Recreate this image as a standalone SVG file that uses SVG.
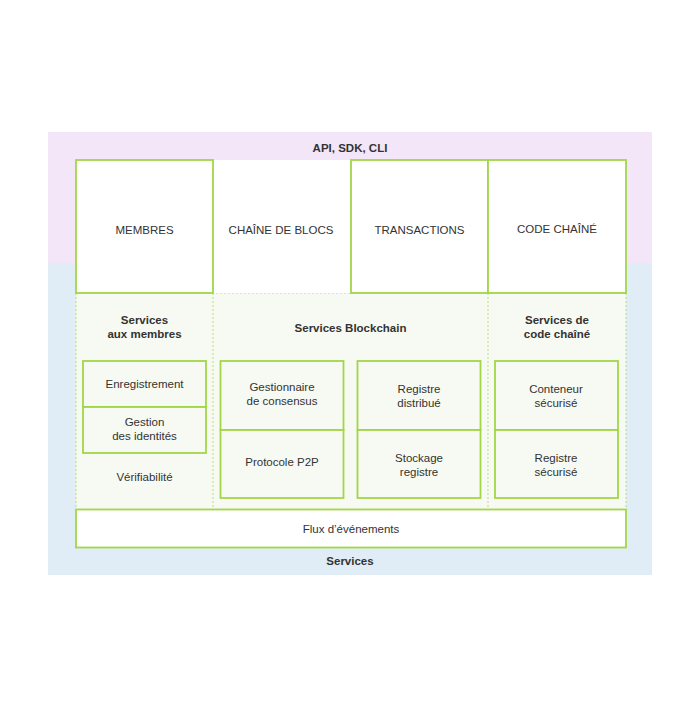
<svg xmlns="http://www.w3.org/2000/svg" width="700" height="706" viewBox="0 0 700 706">
<style>
  text { font-family: "Liberation Sans", Arial, sans-serif; fill: #333; text-anchor: middle; }
  .lbl { font-size: 11.5px; }
  .hdr { font-size: 11.5px; font-weight: bold; }
  .box { fill: #ffffff; stroke: #a2d648; stroke-width: 1.8; }
  .sub { fill: #f7faf2; stroke: #a2d648; stroke-width: 1.8; }
  .dash { fill: none; stroke: #b5de7a; stroke-width: 1; stroke-dasharray: 2 2; }
</style>
<rect width="700" height="706" fill="#ffffff"/>
<g id="background">
  <rect x="48" y="132" width="604" height="131" fill="#f2e6f8"/>
  <rect x="48" y="263" width="604" height="312" fill="#e1edf6"/>
  <text class="hdr" x="350" y="152">API, SDK, CLI</text>
  <text class="hdr" x="350" y="565">Services</text>
</g>
<g id="services-area">
  <rect x="76" y="293" width="550" height="216" fill="#f7faf2"/>
  <path class="dash" d="M76,293 H626 M76,293 V509 M626,293 V509 M213,293 V509 M488,293 V509"/>
</g>
<g id="chaine-de-blocs">
  <rect x="213" y="160" width="138" height="133" fill="#ffffff"/>
  <text class="lbl" x="281" y="234">CHAÎNE DE BLOCS</text>
</g>
<g id="membres">
  <rect class="box" x="76" y="160" width="137" height="133"/>
  <text class="lbl" x="144.5" y="234">MEMBRES</text>
</g>
<g id="transactions">
  <rect class="box" x="351" y="160" width="137" height="133"/>
  <text class="lbl" x="419.5" y="234">TRANSACTIONS</text>
</g>
<g id="code-chaine">
  <rect class="box" x="488" y="160" width="138" height="133"/>
  <text class="lbl" x="557" y="233">CODE CHAÎNÉ</text>
</g>
<g id="services-membres">
  <text class="hdr" x="144.5" y="324">Services</text>
  <text class="hdr" x="144.5" y="338">aux membres</text>
</g>
<g id="services-blockchain">
  <text class="hdr" x="350.5" y="332">Services Blockchain</text>
</g>
<g id="services-code">
  <text class="hdr" x="557" y="324">Services de</text>
  <text class="hdr" x="557" y="338">code chaîné</text>
</g>
<g id="enregistrement">
  <rect class="sub" x="83" y="361" width="123" height="46"/>
  <text class="lbl" x="144.5" y="388">Enregistrement</text>
</g>
<g id="gestion-identites">
  <rect class="sub" x="83" y="407" width="123" height="46"/>
  <text class="lbl" x="144.5" y="426">Gestion</text>
  <text class="lbl" x="144.5" y="440">des identités</text>
</g>
<g id="verifiabilite">
  <text class="lbl" x="144.5" y="481">Vérifiabilité</text>
</g>
<g id="consensus">
  <rect class="sub" x="220.5" y="361" width="123" height="69"/>
  <text class="lbl" x="282" y="391">Gestionnaire</text>
  <text class="lbl" x="282" y="405">de consensus</text>
</g>
<g id="p2p">
  <rect class="sub" x="220.5" y="430" width="123" height="68"/>
  <text class="lbl" x="282" y="466">Protocole P2P</text>
</g>
<g id="registre-distribue">
  <rect class="sub" x="357.5" y="361" width="123" height="69"/>
  <text class="lbl" x="419" y="393">Registre</text>
  <text class="lbl" x="419" y="407">distribué</text>
</g>
<g id="stockage-registre">
  <rect class="sub" x="357.5" y="430" width="123" height="68"/>
  <text class="lbl" x="419" y="462">Stockage</text>
  <text class="lbl" x="419" y="476">registre</text>
</g>
<g id="conteneur-securise">
  <rect class="sub" x="495" y="361" width="123" height="69"/>
  <text class="lbl" x="556" y="393">Conteneur</text>
  <text class="lbl" x="556" y="407">sécurisé</text>
</g>
<g id="registre-securise">
  <rect class="sub" x="495" y="430" width="123" height="68"/>
  <text class="lbl" x="556" y="462">Registre</text>
  <text class="lbl" x="556" y="476">sécurisé</text>
</g>
<g id="flux-evenements">
  <rect class="box" x="76" y="509.5" width="550" height="38"/>
  <text class="lbl" x="351" y="533">Flux d’événements</text>
</g>
<g id="connectors"></g>
</svg>
